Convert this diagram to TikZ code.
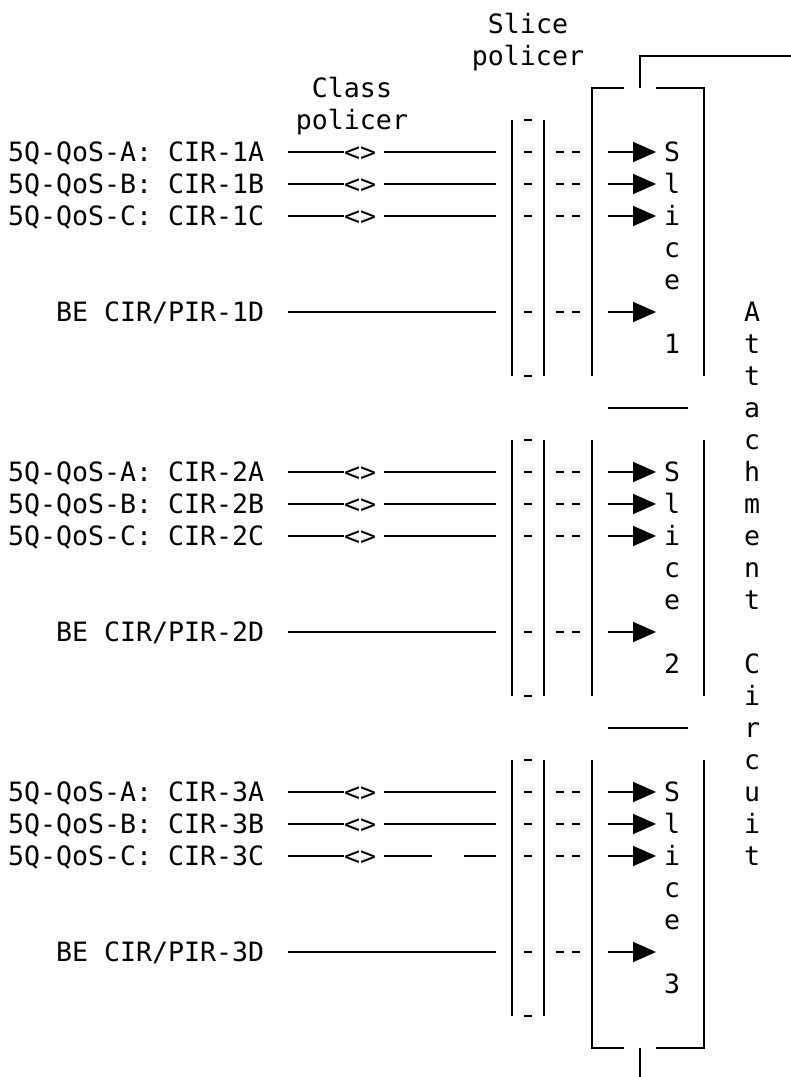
\documentclass[tikz,border=0pt]{standalone}
\usepackage{fontspec}
\newfontfamily\monofam{DejaVu Sans Mono}
\newcommand{\asciifont}{\monofam\fontsize{26.58pt}{32pt}\selectfont}
\usetikzlibrary{arrows.meta}

\begin{document}
\begin{tikzpicture}[x=16pt,y=-32pt]
\tikzset{txt/.style = {inner sep=0pt, text height=19.4pt, text depth=0pt, font=\asciifont}}
\tikzset{lbl/.style = {txt, anchor=west}}
\tikzset{wire/.style = {line width=1.8pt}}
\tikzset{tick/.style = {line width=1.8pt}}
\tikzset{edge/.style = {wire, -{Triangle[length=23pt,width=20pt]}}}
\useasboundingbox (-1,-0.75) rectangle (48.4375,32.90625);

% headings
\node[txt] (sp1) at (32,0) {Slice};
\node[txt] (sp2) at (32,1) {policer};
\node[txt] (cp1) at (21,2) {Class};
\node[txt] (cp2) at (21,3) {policer};

% ---- attachment circuit box
\coordinate (top) at (39,1);
\coordinate (topend) at (48.4375,1);
\coordinate (bot) at (39,32);
\coordinate (botend) at (39,32.90625);
\draw[wire] (topend) -- (top) -- (39,2);
\draw[wire] (bot) -- (botend);
\draw[wire] (38,2) -- (36,2) -- (36,11);
\draw[wire] (40,2) -- (43,2) -- (43,11);
\draw[wire] (36,13) -- (36,21);
\draw[wire] (43,13) -- (43,21);
\draw[wire] (38,32) -- (36,32) -- (36,23);
\draw[wire] (40,32) -- (43,32) -- (43,23);

% separators between slices
\draw[wire] (37,12) -- (42,12);
\draw[wire] (37,22) -- (42,22);

% ---- slices 1..3
\foreach \b/\R in {1/3, 2/13, 3/23} {
  % class flows
  \node[lbl] (qa\b) at (-0.5,\R+1) {5Q-QoS-A: CIR-\b{}A};
  \node[lbl] (qb\b) at (-0.5,\R+2) {5Q-QoS-B: CIR-\b{}B};
  \node[lbl] (qc\b) at (-0.5,\R+3) {5Q-QoS-C: CIR-\b{}C};
  \node[lbl] (be\b) at (2.5,\R+6) {BE CIR/PIR-\b{}D};

  % class policers
  \node[txt] (ga\b) at (21.5,\R+1) {<>};
  \node[txt] (gb\b) at (21.5,\R+2) {<>};
  \node[txt] (gc\b) at (21.5,\R+3) {<>};

  \draw[wire] ([xshift=24pt]qa\b.east) -- (ga\b.west);
  \draw[wire] ([xshift=24pt]qb\b.east) -- (gb\b.west);
  \draw[wire] ([xshift=24pt]qc\b.east) -- (gc\b.west);
  \draw[wire] ([xshift=24pt]be\b.east) -- (30,\R+6);
  \draw[wire] ([xshift=8pt]ga\b.east) -- (30,\R+1);
  \draw[wire] ([xshift=8pt]gb\b.east) -- (30,\R+2);
  \ifnum\b=3
    \draw[wire] ([xshift=8pt]gc\b.east) -- (26,\R+3);
    \draw[wire] (28,\R+3) -- (30,\R+3);
  \else
    \draw[wire] ([xshift=8pt]gc\b.east) -- (30,\R+3);
  \fi

  % slice policer
  \draw[wire] (31,\R) -- (31,\R+8);
  \draw[wire] (33,\R) -- (33,\R+8);
  \draw[tick] (31.75,\R) -- (32.25,\R);
  \draw[tick] (31.75,\R+8) -- (32.25,\R+8);
  \foreach \r in {1,2,3,6} {
    \draw[tick] (31.75,\R+\r) -- (32.25,\R+\r);
    \draw[tick] (33.78,\R+\r) -- (34.22,\R+\r);
    \draw[tick] (34.78,\R+\r) -- (35.22,\R+\r);
    \draw[edge] (37,\R+\r) -- (40,\R+\r);
  }

  % slice name
  \foreach \ch [count=\i] in {S,l,i,c,e}
    \node[txt] (sl\b-\i) at (41,\R+\i) {\ch};
  \node[txt] (sn\b) at (41,\R+7) {\b};
}

% attachment circuit label
\foreach \ch [count=\i from 9] in {A,t,t,a,c,h,m,e,n,t}
  \node[txt] (ac\i) at (46,\i) {\ch};
\foreach \ch [count=\i from 20] in {C,i,r,c,u,i,t}
  \node[txt] (ac\i) at (46,\i) {\ch};
\end{tikzpicture}
\end{document}
